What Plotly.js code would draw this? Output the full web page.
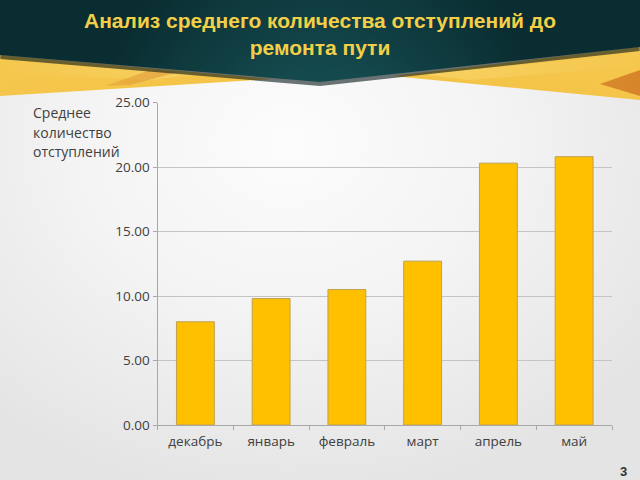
<!DOCTYPE html>
<html>
<head>
<meta charset="utf-8">
<script src="https://cdn.plot.ly/plotly-3.0.1.min.js"></script>
<style>
  html, body { margin: 0; padding: 0; }
  body {
    width: 640px; height: 480px; overflow: hidden; position: relative;
    background: radial-gradient(ellipse 70% 75% at 45% 30%, #fcfcfc 0%, #f4f4f4 45%, #e4e4e4 100%);
  }
  .deco { position: absolute; left: 0; top: 0; width: 640px; height: 480px; }
  #banner {
    background: radial-gradient(ellipse 45% 125% at 50% 100%, #4fa9a6 0%, #277574 26%, #1a5c5f 52%, #103e42 78%, #0a2d31 100%);
    clip-path: polygon(0 0, 640px 0, 640px 47px, 320px 82px, 0 55px);
  }
  #shadow {
    background: rgba(10,25,25,0.6);
    clip-path: polygon(0 54px, 320px 81px, 640px 46px, 640px 51px, 320px 86px, 0 59px);
    filter: blur(1.2px);
  }
  #goldL {
    background: linear-gradient(172deg, #f6cc55 0%, #f1bb38 45%, #ecae32 72%, #d6862a 100%);
    clip-path: polygon(0 55px, 272px 79px, 0 96px);
  }
  #hiL {
    background: linear-gradient(90deg, rgba(252,222,125,0.0) 0%, rgba(252,222,125,0.85) 60%, rgba(252,222,125,0) 100%);
    clip-path: polygon(0 60px, 200px 74px, 150px 80px, 0 72px);
  }
  #streakL {
    background: linear-gradient(90deg, rgba(210,122,38,0) 0%, rgba(210,122,38,0.8) 50%, rgba(210,122,38,0) 100%);
    clip-path: polygon(105px 86px, 150px 70px, 178px 72px, 130px 85px);
  }
  #goldR {
    background: linear-gradient(188deg, #f6cc55 0%, #f1bb38 40%, #ecae32 72%, #d6862a 100%);
    clip-path: polygon(640px 47px, 392px 76px, 640px 100px);
  }
  #hiR {
    background: linear-gradient(270deg, rgba(252,222,125,0.0) 0%, rgba(252,222,125,0.75) 50%, rgba(252,222,125,0) 100%);
    clip-path: polygon(420px 74px, 640px 54px, 640px 66px, 470px 80px);
  }
  #streakR {
    background: linear-gradient(90deg, rgba(210,122,38,0) 0%, rgba(210,122,38,0.85) 100%);
    clip-path: polygon(600px 84px, 640px 70px, 640px 96px);
  }
  #chart { position: absolute; left: 0; top: 0; width: 640px; height: 480px; }
</style>
</head>
<body>
<div class="deco" id="goldL"></div>
<div class="deco" id="hiL"></div>
<div class="deco" id="streakL"></div>
<div class="deco" id="goldR"></div>
<div class="deco" id="hiR"></div>
<div class="deco" id="streakR"></div>
<div class="deco" id="shadow"></div>
<div class="deco" id="banner"></div>
<div id="chart"></div>
<script>
const months = ["декабрь", "январь", "февраль", "март", "апрель", "май"];
const avgDeviations = [8.0, 9.8, 10.5, 12.7, 20.3, 20.8];
const yTickValues = [0, 5, 10, 15, 20, 25];
const titleText = "Анализ среднего количества отступлений до<br>ремонта пути";
const yTitleLines = ["Среднее", "количество", "отступлений"];
const pageNumber = "3";

const textColor = "#404040";
const baseFont = "Open Sans, DejaVu Sans, sans-serif";

const annotations = yTitleLines.map((t, i) => ({
  text: t, xref: "paper", yref: "paper",
  x: 31 / 640, y: 1 - [112, 132, 151][i] / 480,
  xanchor: "left", yanchor: "middle", showarrow: false,
  font: { family: baseFont, size: 14, color: textColor }
}));
annotations.push({
  text: "<b>" + pageNumber + "</b>", xref: "paper", yref: "paper",
  x: 623 / 640, y: 1 - 471 / 480, xanchor: "center", yanchor: "middle",
  showarrow: false,
  font: { family: "Liberation Sans, Arial, sans-serif", size: 13, color: "#333333" }
});

const data = [{
  type: "bar",
  x: months,
  y: avgDeviations,
  marker: { color: "#FFC000", line: { color: "#BFA050", width: 1 } },
  hoverinfo: "skip"
}];

const layout = {
  width: 640, height: 480,
  margin: { l: 0, r: 0, t: 0, b: 0, pad: 0 },
  paper_bgcolor: "rgba(0,0,0,0)",
  plot_bgcolor: "rgba(0,0,0,0)",
  showlegend: false,
  bargap: 0.5,
  title: {
    text: titleText,
    x: 0.5, xanchor: "center",
    y: 1 - 28 / 480, yanchor: "top", yref: "container",
    font: { family: "Liberation Sans, Arial, sans-serif", size: 21, color: "#F3CF48", weight: "bold" }
  },
  xaxis: {
    domain: [157.5 / 640, 612 / 640],
    type: "category",
    showline: true, linecolor: "#a8a8a8", linewidth: 1,
    ticks: "outside", tickson: "boundaries", ticklen: 4, tickcolor: "#a8a8a8",
    ticklabelstandoff: 4,
    showgrid: false, zeroline: false,
    tickfont: { family: baseFont, size: 13.5, color: textColor }
  },
  yaxis: {
    domain: [55 / 480, (480 - 102.5) / 480],
    range: [0, 25],
    tickvals: yTickValues,
    tickformat: ".2f",
    showline: true, linecolor: "#a8a8a8", linewidth: 1,
    ticks: "outside", ticklen: 4, tickcolor: "#a8a8a8",
    showgrid: true, gridcolor: "#c4c4c4", gridwidth: 1,
    zeroline: false,
    tickfont: { family: baseFont, size: 13.5, color: textColor }
  },
  annotations: annotations
};

Plotly.newPlot("chart", data, layout, { displayModeBar: false, staticPlot: true });
</script>
</body>
</html>
